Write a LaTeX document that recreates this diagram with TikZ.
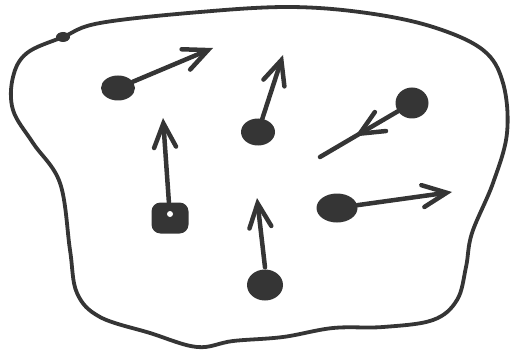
\documentclass[tikz,border=0pt]{standalone}
\usetikzlibrary{arrows.meta,decorations.markings,shapes.geometric}
\definecolor{ink}{HTML}{353535}
\begin{document}
\begin{tikzpicture}[x=1pt,y=-1pt,
  dot/.style={ellipse,fill=ink,draw=none,inner sep=0pt},
  vec/.style={draw=ink,line width=4.5pt,line cap=round,-{Straight Barb[length=24pt,width=22pt,line cap=round]}},
  rim/.style={draw=ink,line width=3.8pt}]
\useasboundingbox (0,0) rectangle (510,358);
\draw[rim] plot[smooth cycle, tension=0.6] coordinates {(63,37) (100,23) (200,12) (290,7) (367,13) (433,27) (483,50) (503,83) (507,133) (493,183) (472,233) (466,267) (457,300) (433,320) (383,327) (333,328) (283,337) (233,341) (197,347) (150,333) (100,317) (77,293) (70,250) (60,183) (33,143) (13,110) (13,77) (27,53)};
\fill[ink] (63,37) ellipse (7pt and 5pt);
\node[dot,minimum width=34pt,minimum height=25pt] (d1) at (118,88) {};
\node[dot,minimum width=34pt,minimum height=27pt] (d2) at (258,132) {};
\node[dot,minimum width=33pt,minimum height=31pt] (d3) at (412,103) {};
\node[rectangle,rounded corners=9pt,fill=ink,minimum width=37pt,minimum height=31pt,inner sep=0pt] (d4) at (170,218) {};
\fill[white] (170,214) circle (3pt);
\node[dot,minimum width=41pt,minimum height=29pt] (d5) at (337,208) {};
\node[dot,minimum width=36pt,minimum height=31pt] (d6) at (265,285) {};
\coordinate (t1) at (213,48);
\coordinate (t2) at (283,55);
\coordinate (e3) at (320,157);
\coordinate (t4) at (163,118);
\coordinate (t5) at (452,192);
\coordinate (t6) at (257,198);
\draw[vec] (d1) -- (t1);
\draw[vec] (d2) -- (t2);
\draw[draw=ink,line width=4.5pt,line cap=round,postaction={decorate},
  decoration={markings,mark=at position 0.55 with {\arrow{Straight Barb[length=24pt,width=22pt,line cap=round,line width=4.5pt]}}}] (d3) -- (e3);
\draw[vec] (d4) -- (t4);
\draw[vec] (d5) -- (t5);
\draw[vec] (d6.north) ++(0,-2) coordinate (s6) (s6) -- (t6);
\end{tikzpicture}
\end{document}
